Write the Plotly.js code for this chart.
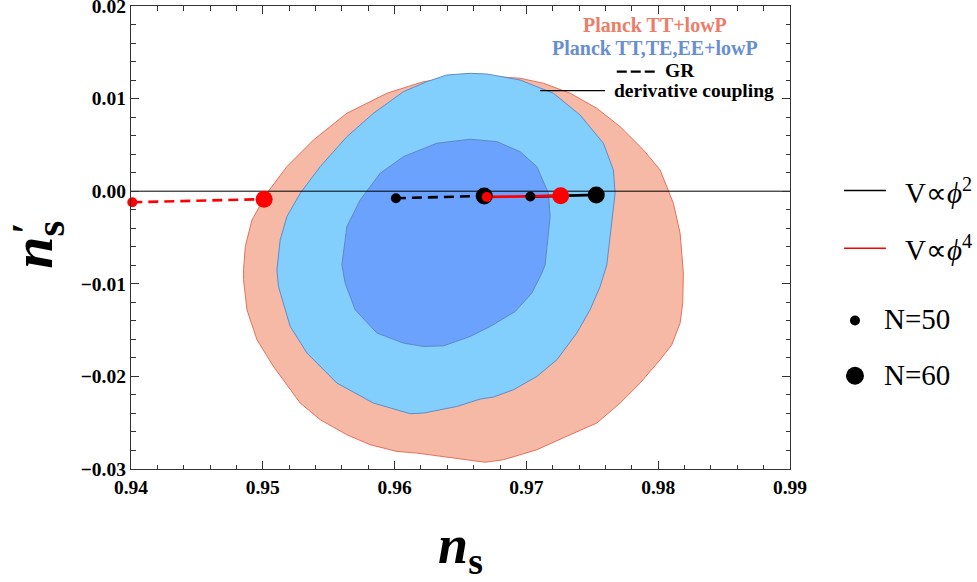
<!DOCTYPE html>
<html>
<head>
<meta charset="utf-8">
<script src="https://cdn.plot.ly/plotly-3.0.1.min.js"></script>
<style>html,body{margin:0;padding:0;background:#fff;}#chart{width:977px;height:582px;}</style>
</head>
<body>
<div id="chart"></div>
<script>
// Planck TT+lowP (2 sigma) contour
const ttX = [0.96573,0.96391,0.96219,0.95942,0.95638,0.95385,0.95183,0.95031,0.94918,0.94867,0.94854,0.94854,0.94880,0.94956,0.95081,0.95208,0.95284,0.95436,0.95638,0.95815,0.96017,0.96169,0.96321,0.96522,0.96687,0.96826,0.97079,0.97332,0.97534,0.97711,0.97863,0.98014,0.98103,0.98166,0.98186,0.98191,0.98166,0.98115,0.98077,0.98014,0.97888,0.97711,0.97534,0.97332,0.97129,0.96952,0.96801,0.96573];
const ttY = [0.01239,0.01217,0.01183,0.01058,0.00842,0.00554,0.00266,-0.00022,-0.00310,-0.00598,-0.00849,-0.00957,-0.01281,-0.01605,-0.01893,-0.02144,-0.02288,-0.02468,-0.02630,-0.02738,-0.02810,-0.02828,-0.02857,-0.02900,-0.02927,-0.02900,-0.02792,-0.02630,-0.02504,-0.02288,-0.02072,-0.01821,-0.01659,-0.01425,-0.01209,-0.00885,-0.00453,-0.00130,0.00014,0.00230,0.00446,0.00697,0.00896,0.01058,0.01166,0.01220,0.01234,0.01239];
// Planck TT,TE,EE+lowP 2 sigma
const pol2X = [0.96573,0.96396,0.96245,0.96067,0.95840,0.95638,0.95436,0.95284,0.95183,0.95132,0.95107,0.95119,0.95208,0.95335,0.95562,0.95840,0.96118,0.96219,0.96472,0.96649,0.96750,0.96902,0.97079,0.97231,0.97382,0.97483,0.97559,0.97610,0.97635,0.97673,0.97660,0.97584,0.97407,0.97205,0.96952,0.96700,0.96573];
const pol2Y = [0.01273,0.01255,0.01183,0.01075,0.00842,0.00589,0.00266,-0.00022,-0.00274,-0.00526,-0.00849,-0.01030,-0.01461,-0.01748,-0.02072,-0.02288,-0.02403,-0.02396,-0.02325,-0.02245,-0.02223,-0.02144,-0.02001,-0.01821,-0.01532,-0.01281,-0.01030,-0.00795,-0.00490,-0.00022,0.00230,0.00518,0.00823,0.01058,0.01201,0.01266,0.01273];
// Planck TT,TE,EE+lowP 1 sigma
const pol1X = [0.96573,0.96321,0.96067,0.95891,0.95739,0.95638,0.95600,0.95625,0.95701,0.95866,0.96067,0.96219,0.96371,0.96573,0.96725,0.96915,0.97041,0.97117,0.97142,0.97180,0.97167,0.97079,0.96952,0.96776,0.96573];
const pol1Y = [0.00561,0.00518,0.00373,0.00194,-0.00094,-0.00382,-0.00795,-0.00993,-0.01281,-0.01532,-0.01640,-0.01677,-0.01670,-0.01569,-0.01461,-0.01299,-0.01101,-0.00885,-0.00795,-0.00274,-0.00022,0.00266,0.00427,0.00535,0.00561];

// zero reference line
const zeroX = [0.94, 0.99];
const zeroY = [0, 0];

// model predictions, [N=50, N=60]
const grPhi2X = [0.9601, 0.9668];
const grPhi2Y = [-0.00076, -0.00051];
const grPhi4X = [0.9401, 0.9501];
const grPhi4Y = [-0.00119, -0.00086];
const dcPhi2X = [0.9703, 0.9753];
const dcPhi2Y = [-0.00058, -0.00040];
const dcPhi4X = [0.9670, 0.9726];
const dcPhi4Y = [-0.00062, -0.00050];

const xTicks = [0.94, 0.95, 0.96, 0.97, 0.98, 0.99];
const yTicks = [0.02, 0.01, 0.00, -0.01, -0.02, -0.03];

const SERIF = 'Liberation Serif, Times New Roman, serif';
const markerSizes = [10, 17];

function mk(color) {
  return {color: color, size: markerSizes, opacity: 1, line: {width: 0}};
}

const traces = [
  {x: ttX, y: ttY, type: 'scatter', mode: 'lines', fill: 'toself',
   fillcolor: 'rgb(245,185,166)', line: {color: 'rgb(232,112,92)', width: 1}, hoverinfo: 'skip'},
  {x: pol2X, y: pol2Y, type: 'scatter', mode: 'lines', fill: 'toself',
   fillcolor: 'rgb(130,207,253)', line: {color: 'rgb(95,140,200)', width: 1}, hoverinfo: 'skip'},
  {x: pol1X, y: pol1Y, type: 'scatter', mode: 'lines', fill: 'toself',
   fillcolor: 'rgb(107,162,253)', line: {color: 'rgb(95,135,200)', width: 1}, hoverinfo: 'skip'},
  {x: zeroX, y: zeroY, type: 'scatter', mode: 'lines', line: {color: '#000', width: 1}, hoverinfo: 'skip'},
  {x: grPhi2X, y: grPhi2Y, type: 'scatter', mode: 'lines', line: {color: '#000', width: 2.6, dash: '10px,6px'}},
  {x: grPhi4X, y: grPhi4Y, type: 'scatter', mode: 'lines', line: {color: 'rgb(255,0,0)', width: 2.6, dash: '10px,6px'}},
  {x: dcPhi2X, y: dcPhi2Y, type: 'scatter', mode: 'lines', line: {color: '#000', width: 2.8}},
  {x: dcPhi4X, y: dcPhi4Y, type: 'scatter', mode: 'lines', line: {color: 'rgb(255,0,0)', width: 2.8}},
  {x: grPhi2X, y: grPhi2Y, type: 'scatter', mode: 'markers', cliponaxis: false, marker: mk('#000')},
  {x: dcPhi2X, y: dcPhi2Y, type: 'scatter', mode: 'markers', cliponaxis: false, marker: mk('#000')},
  {x: grPhi4X, y: grPhi4Y, type: 'scatter', mode: 'markers', cliponaxis: false, marker: mk('rgb(255,0,0)')},
  {x: dcPhi4X, y: dcPhi4Y, type: 'scatter', mode: 'markers', cliponaxis: false, marker: mk('rgb(255,0,0)')}
];

const tickFont = {family: SERIF, size: 19.5, color: '#000', weight: 'bold'};
const axisCommon = {
  showgrid: false, zeroline: false, showline: true, linecolor: '#333', linewidth: 1.2,
  mirror: 'ticks', ticks: 'inside', ticklen: 8, tickwidth: 1, tickcolor: '#333',
  tickfont: tickFont, tickmode: 'array', ticklabeloverflow: 'allow'
};

const layout = {
  width: 977, height: 582,
  margin: {l: 131, r: 187, t: 6, b: 113},
  paper_bgcolor: '#fff', plot_bgcolor: '#fff',
  showlegend: false,
  font: {family: SERIF},
  xaxis: Object.assign({}, axisCommon, {
    range: [0.94, 0.99], tickvals: xTicks, ticktext: xTicks.map(v => v.toFixed(2)),
    minor: {dtick: 0.002, tick0: 0.94, ticks: 'inside', ticklen: 4.5, tickwidth: 1, tickcolor: '#333'},
    title: {text: '<b><i>n</i><sub>s</sub></b>', font: {family: SERIF, size: 54, color: '#000'}, standoff: 33}
  }),
  yaxis: Object.assign({}, axisCommon, {
    range: [-0.03, 0.02], tickvals: yTicks, ticktext: yTicks.map(v => (v < 0 ? '\u2212' + Math.abs(v).toFixed(2) : v.toFixed(2))),
    minor: {dtick: 0.002, tick0: -0.03, ticks: 'inside', ticklen: 4.5, tickwidth: 1, tickcolor: '#333'},
    title: {text: '<b><i>n</i><sub>s</sub>\u00A0</b>', font: {family: SERIF, size: 58, color: '#000'}, standoff: 10}
  }),
  shapes: [
    {type: 'line', xref: 'paper', yref: 'paper', x0: 0.7371, x1: 0.7952, y0: 0.8582, y1: 0.8582,
     line: {color: '#000', width: 2.4, dash: '10px,4px'}},
    {type: 'line', xref: 'paper', yref: 'paper', x0: 0.6208, x1: 0.7194, y0: 0.8172, y1: 0.8172,
     line: {color: '#000', width: 1.2}},
    {type: 'line', xref: 'paper', yref: 'paper', x0: 1.0819, x1: 1.1456, y0: 0.6013, y1: 0.6013,
     line: {color: '#000', width: 1.5}},
    {type: 'line', xref: 'paper', yref: 'paper', x0: 1.0819, x1: 1.1456, y0: 0.4770, y1: 0.4770,
     line: {color: 'rgb(255,0,0)', width: 1.5}},
    {type: 'circle', xref: 'paper', yref: 'paper', xsizemode: 'pixel', ysizemode: 'pixel',
     xanchor: 1.0986, yanchor: 0.3207, x0: -5, x1: 5, y0: -5, y1: 5, fillcolor: '#000', line: {width: 0}},
    {type: 'circle', xref: 'paper', yref: 'paper', xsizemode: 'pixel', ysizemode: 'pixel',
     xanchor: 1.0986, yanchor: 0.2014, x0: -9, x1: 9, y0: -9, y1: 9, fillcolor: '#000', line: {width: 0}}
  ],
  annotations: [
    // prime of the y-axis title (stacked above the subscript)
    {xref: 'paper', yref: 'paper', x: -0.160, y: 0.52, xanchor: 'center', yanchor: 'middle', showarrow: false,
     textangle: -90, text: '<b>\u2032</b>', font: {family: SERIF, size: 40, color: '#000'}},
    {xref: 'paper', yref: 'paper', x: 0.7952, y: 0.959, xanchor: 'center', yanchor: 'middle', showarrow: false,
     text: '<b>Planck TT+lowP</b>', font: {family: SERIF, size: 20, color: 'rgb(236,125,104)'}},
    {xref: 'paper', yref: 'paper', x: 0.7952, y: 0.9087, xanchor: 'center', yanchor: 'middle', showarrow: false,
     text: '<b>Planck TT,TE,EE+lowP</b>', font: {family: SERIF, size: 20, color: 'rgb(104,142,210)'}},
    {xref: 'paper', yref: 'paper', x: 0.8074, y: 0.8602, xanchor: 'left', yanchor: 'middle', showarrow: false,
     text: '<b>GR</b>', font: {family: SERIF, size: 19.5, color: '#000'}},
    {xref: 'paper', yref: 'paper', x: 0.7300, y: 0.8167, xanchor: 'left', yanchor: 'middle', showarrow: false,
     text: '<b>derivative coupling</b>', font: {family: SERIF, size: 19.5, color: '#000'}},
    {xref: 'paper', yref: 'paper', x: 1.1713, y: 0.6013, xanchor: 'left', yanchor: 'middle', showarrow: false,
     text: 'V\u221D<i>\u03D5</i><sup>2</sup>', font: {family: SERIF, size: 29, color: '#000'}},
    {xref: 'paper', yref: 'paper', x: 1.1713, y: 0.4770, xanchor: 'left', yanchor: 'middle', showarrow: false,
     text: 'V\u221D<i>\u03D5</i><sup>4</sup>', font: {family: SERIF, size: 29, color: '#000'}},
    {xref: 'paper', yref: 'paper', x: 1.1395, y: 0.3229, xanchor: 'left', yanchor: 'middle', showarrow: false,
     text: 'N=50', font: {family: SERIF, size: 29, color: '#000'}},
    {xref: 'paper', yref: 'paper', x: 1.1395, y: 0.2035, xanchor: 'left', yanchor: 'middle', showarrow: false,
     text: 'N=60', font: {family: SERIF, size: 29, color: '#000'}}
  ]
};

Plotly.newPlot('chart', traces, layout, {displayModeBar: false, staticPlot: true});
</script>
</body>
</html>
